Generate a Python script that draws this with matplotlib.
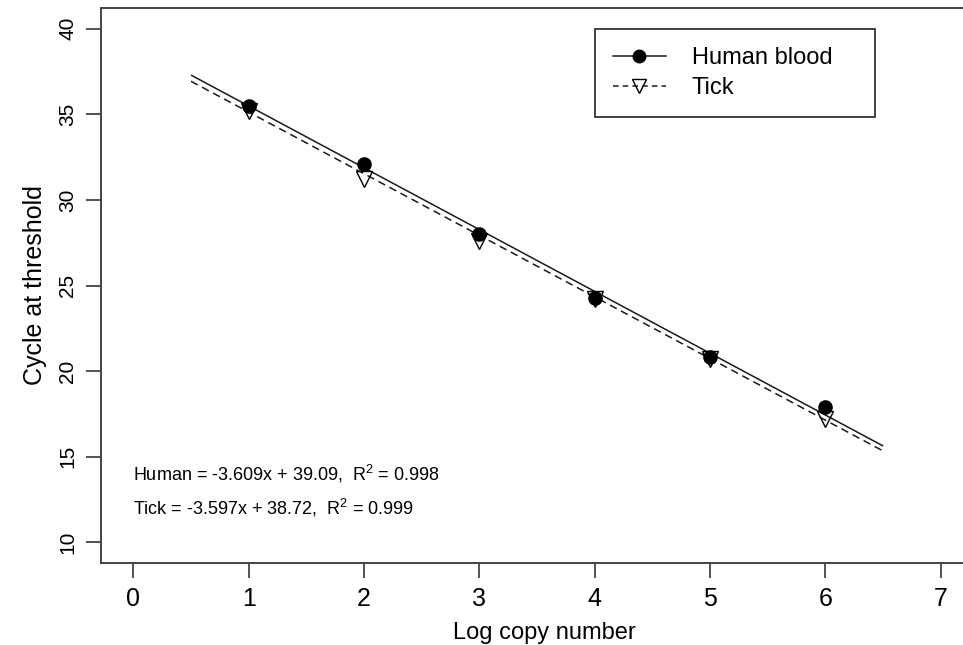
import numpy as np
import matplotlib
matplotlib.use("Agg")
import matplotlib.pyplot as plt
from matplotlib.lines import Line2D

plt.rcParams['font.family'] = ['Liberation Sans', 'DejaVu Sans']
plt.rcParams['lines.scale_dashes'] = False
plt.rcParams['mathtext.fontset'] = 'custom'
plt.rcParams['mathtext.rm'] = 'Liberation Sans'

# data
log_copies = [1, 2, 3, 4, 5, 6]
ct_human = [35.5, 32.1, 28.0, 24.3, 20.8, 17.9]
ct_tick = [35.2, 31.2, 27.6, 24.2, 20.7, 17.2]

# fitted lines (from the equations on the chart)
fit_human = (-3.609, 39.09)
fit_tick = (-3.597, 38.72)
fit_range = [0.5, 6.5]

eq_human = "Human = -3.609x + 39.09,  R$^2$ = 0.998"
eq_tick = "Tick = -3.597x + 38.72,  R$^2$ = 0.999"

xticks = [0, 1, 2, 3, 4, 5, 6, 7]
yticks = [10, 15, 20, 25, 30, 35, 40]

fig = plt.figure(figsize=(9.63, 6.45), dpi=100)
ax = fig.add_axes([0.1049, 0.1271, 0.92, 0.8605])

lc = '#1a1a1a'
xs = np.array(fit_range)
ax.plot(xs, fit_human[0] * xs + fit_human[1], color=lc, lw=1.1, solid_capstyle='butt')
ax.plot(xs, fit_tick[0] * xs + fit_tick[1], color=lc, lw=1.1, dashes=(5.5, 3.5))

ax.plot(log_copies, ct_human, 'o', color='black', ms=9.5, zorder=4)
ax.plot(log_copies, ct_tick, 'v', mfc='none', mec='black', mew=1.0, ms=11, zorder=5)

# right edge of the plot box falls outside the picture, as in the original
ax.set_xlim(-0.28, 7.40)
ax.set_ylim(8.8, 41.2)
ax.set_xticks(xticks)
ax.set_yticks(yticks)
ax.tick_params(axis='x', length=11, width=1.3, color='#444444', labelsize=18, pad=6)
ax.tick_params(axis='y', length=11, width=1.3, color='#444444', labelsize=15, pad=6)
for lab in ax.get_yticklabels():
    lab.set_rotation(90)
    lab.set_va('center')
for sp in ax.spines.values():
    sp.set_color('#444444')
    sp.set_linewidth(1.4)

ax.set_xlabel("Log copy number", fontsize=17, labelpad=8)
ax.set_ylabel("Cycle at threshold", fontsize=18, labelpad=8)

ax.text(0, 14, eq_human, fontsize=13, ha='left', va='center')
ax.text(0, 12, eq_tick, fontsize=13, ha='left', va='center')

handles = [
    Line2D([], [], color=lc, lw=1.1, marker='o', ms=9, mfc='black', mec='black'),
    Line2D([], [], color=lc, lw=1.1, dashes=(4, 3), marker='v', ms=10,
           mfc='none', mec='black'),
]
leg = ax.legend(handles, ["Human blood", "Tick"], loc='upper left',
                bbox_to_anchor=(0.5576, 0.962, 0.316, 0.0), mode='expand',
                fontsize=17, frameon=True, fancybox=False, framealpha=1,
                edgecolor='#333333', handlelength=2.25, handletextpad=1.1,
                borderpad=0.75, labelspacing=0.35, borderaxespad=0)
leg.get_frame().set_linewidth(1.3)

fig.savefig("out.png", dpi=100)
